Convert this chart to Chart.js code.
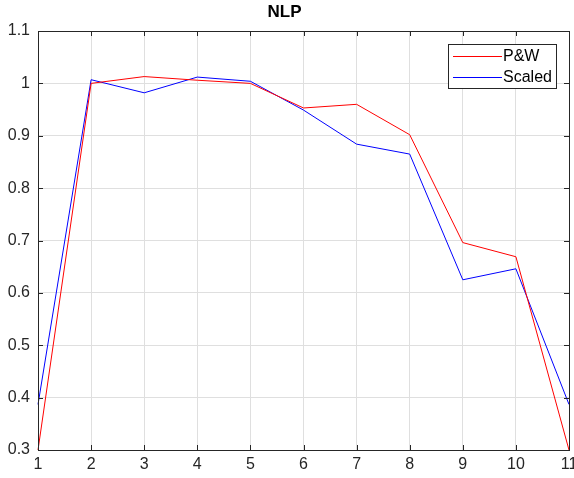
<!DOCTYPE html>
<html>
<head>
<meta charset="utf-8">
<script src="https://cdn.jsdelivr.net/npm/chart.js@4.4.1/dist/chart.umd.min.js"></script>
<style>
  html, body { margin: 0; padding: 0; background: #fff; }
  canvas { display: block; }
</style>
</head>
<body>
<canvas id="nlpChart" width="574" height="478"></canvas>
<script>
// x positions and the two series
const xValues = [1, 2, 3, 4, 5, 6, 7, 8, 9, 10, 11];
const pwValues = [0.300, 1.000, 1.013, 1.006, 1.000, 0.953, 0.960, 0.902, 0.696, 0.669, 0.300];
const scaledValues = [0.387, 1.007, 0.982, 1.012, 1.004, 0.949, 0.884, 0.865, 0.625, 0.646, 0.387];
const seriesNames = ['P&W', 'Scaled'];
const titleText = 'NLP';

const axisColor = '#262626';
const fontFamily = '"Liberation Sans", Arial, Helvetica, sans-serif';

function toPoints(ys) {
	return xValues.map((x, i) => ({x: x, y: ys[i]}));
}

// MATLAB style box with inward ticks on all four sides
const boxPlugin = {
	id: 'matlabBox',
	afterDatasetsDraw(chart) {
		const {ctx, chartArea: a, scales} = chart;
		const len = 5;
		ctx.save();
		ctx.strokeStyle = axisColor;
		ctx.lineWidth = 1;
		ctx.beginPath();
		scales.x.ticks.forEach(t => {
			const px = Math.round(scales.x.getPixelForValue(t.value)) + 0.5;
			ctx.moveTo(px, a.bottom); ctx.lineTo(px, a.bottom - len);
			ctx.moveTo(px, a.top); ctx.lineTo(px, a.top + len);
		});
		scales.y.ticks.forEach(t => {
			const py = Math.round(scales.y.getPixelForValue(t.value)) + 0.5;
			ctx.moveTo(a.left, py); ctx.lineTo(a.left + len, py);
			ctx.moveTo(a.right, py); ctx.lineTo(a.right - len, py);
		});
		ctx.stroke();
		ctx.strokeRect(Math.round(a.left) + 0.5, Math.round(a.top) + 0.5,
			Math.round(a.right - a.left), Math.round(a.bottom - a.top));
		ctx.restore();
	}
};

// legend drawn inside the plot, top right
const insideLegend = {
	id: 'insideLegend',
	afterDraw(chart) {
		const {ctx, chartArea: a} = chart;
		const w = 108, h = 44;
		const x0 = a.right - 13 - w, y0 = a.top + 13;
		ctx.save();
		ctx.fillStyle = '#fff';
		ctx.fillRect(x0, y0, w, h);
		ctx.strokeStyle = axisColor;
		ctx.lineWidth = 1;
		ctx.strokeRect(x0 + 0.5, y0 + 0.5, w, h);
		ctx.font = '16px ' + fontFamily;
		ctx.textBaseline = 'middle';
		chart.data.datasets.forEach((ds, i) => {
			const yy = y0 + 12 + i * 21;
			ctx.strokeStyle = ds.borderColor;
			ctx.beginPath();
			ctx.moveTo(x0 + 5, yy + 0.5);
			ctx.lineTo(x0 + 54, yy + 0.5);
			ctx.stroke();
			ctx.fillStyle = '#000';
			ctx.fillText(ds.label, x0 + 55, yy + 1);
		});
		ctx.restore();
	}
};

new Chart(document.getElementById('nlpChart').getContext('2d'), {
	type: 'line',
	data: {
		datasets: [{
			label: seriesNames[0],
			data: toPoints(pwValues),
			borderColor: '#ff0000',
			borderWidth: 1,
			pointRadius: 0,
			tension: 0,
			clip: false
		}, {
			label: seriesNames[1],
			data: toPoints(scaledValues),
			borderColor: '#0000ff',
			borderWidth: 1,
			pointRadius: 0,
			tension: 0,
			clip: false
		}]
	},
	options: {
		responsive: false,
		animation: false,
		devicePixelRatio: 1,
		layout: {padding: {left: 0, right: 5, top: 0, bottom: 0}},
		plugins: {
			legend: {display: false},
			tooltip: {enabled: false},
			title: {
				display: true,
				text: titleText,
				color: '#000',
				font: {family: fontFamily, size: 17, weight: 'bold', lineHeight: 1.2},
				padding: {top: 2, bottom: 8.6}
			}
		},
		scales: {
			x: {
				type: 'linear',
				min: 1,
				max: 11,
				ticks: {
					stepSize: 1,
					color: axisColor,
					padding: 5,
					maxRotation: 0,
					font: {family: fontFamily, size: 16}
				},
				grid: {color: '#dfdfdf', drawTicks: false},
				border: {display: false},
				afterFit(scale) {
					scale.height = 28;
					scale.paddingLeft = 0;
					scale.paddingRight = 0;
				}
			},
			y: {
				min: 0.3,
				max: 1.1,
				ticks: {
					stepSize: 0.1,
					color: axisColor,
					padding: 8,
					font: {family: fontFamily, size: 16},
					callback: v => Number(v.toFixed(1)).toString()
				},
				grid: {color: '#dfdfdf', drawTicks: false},
				border: {display: false},
				afterFit(scale) {
					scale.width = 38;
					scale.paddingTop = 0;
					scale.paddingBottom = 0;
				}
			}
		}
	},
	plugins: [boxPlugin, insideLegend]
});
</script>
</body>
</html>
